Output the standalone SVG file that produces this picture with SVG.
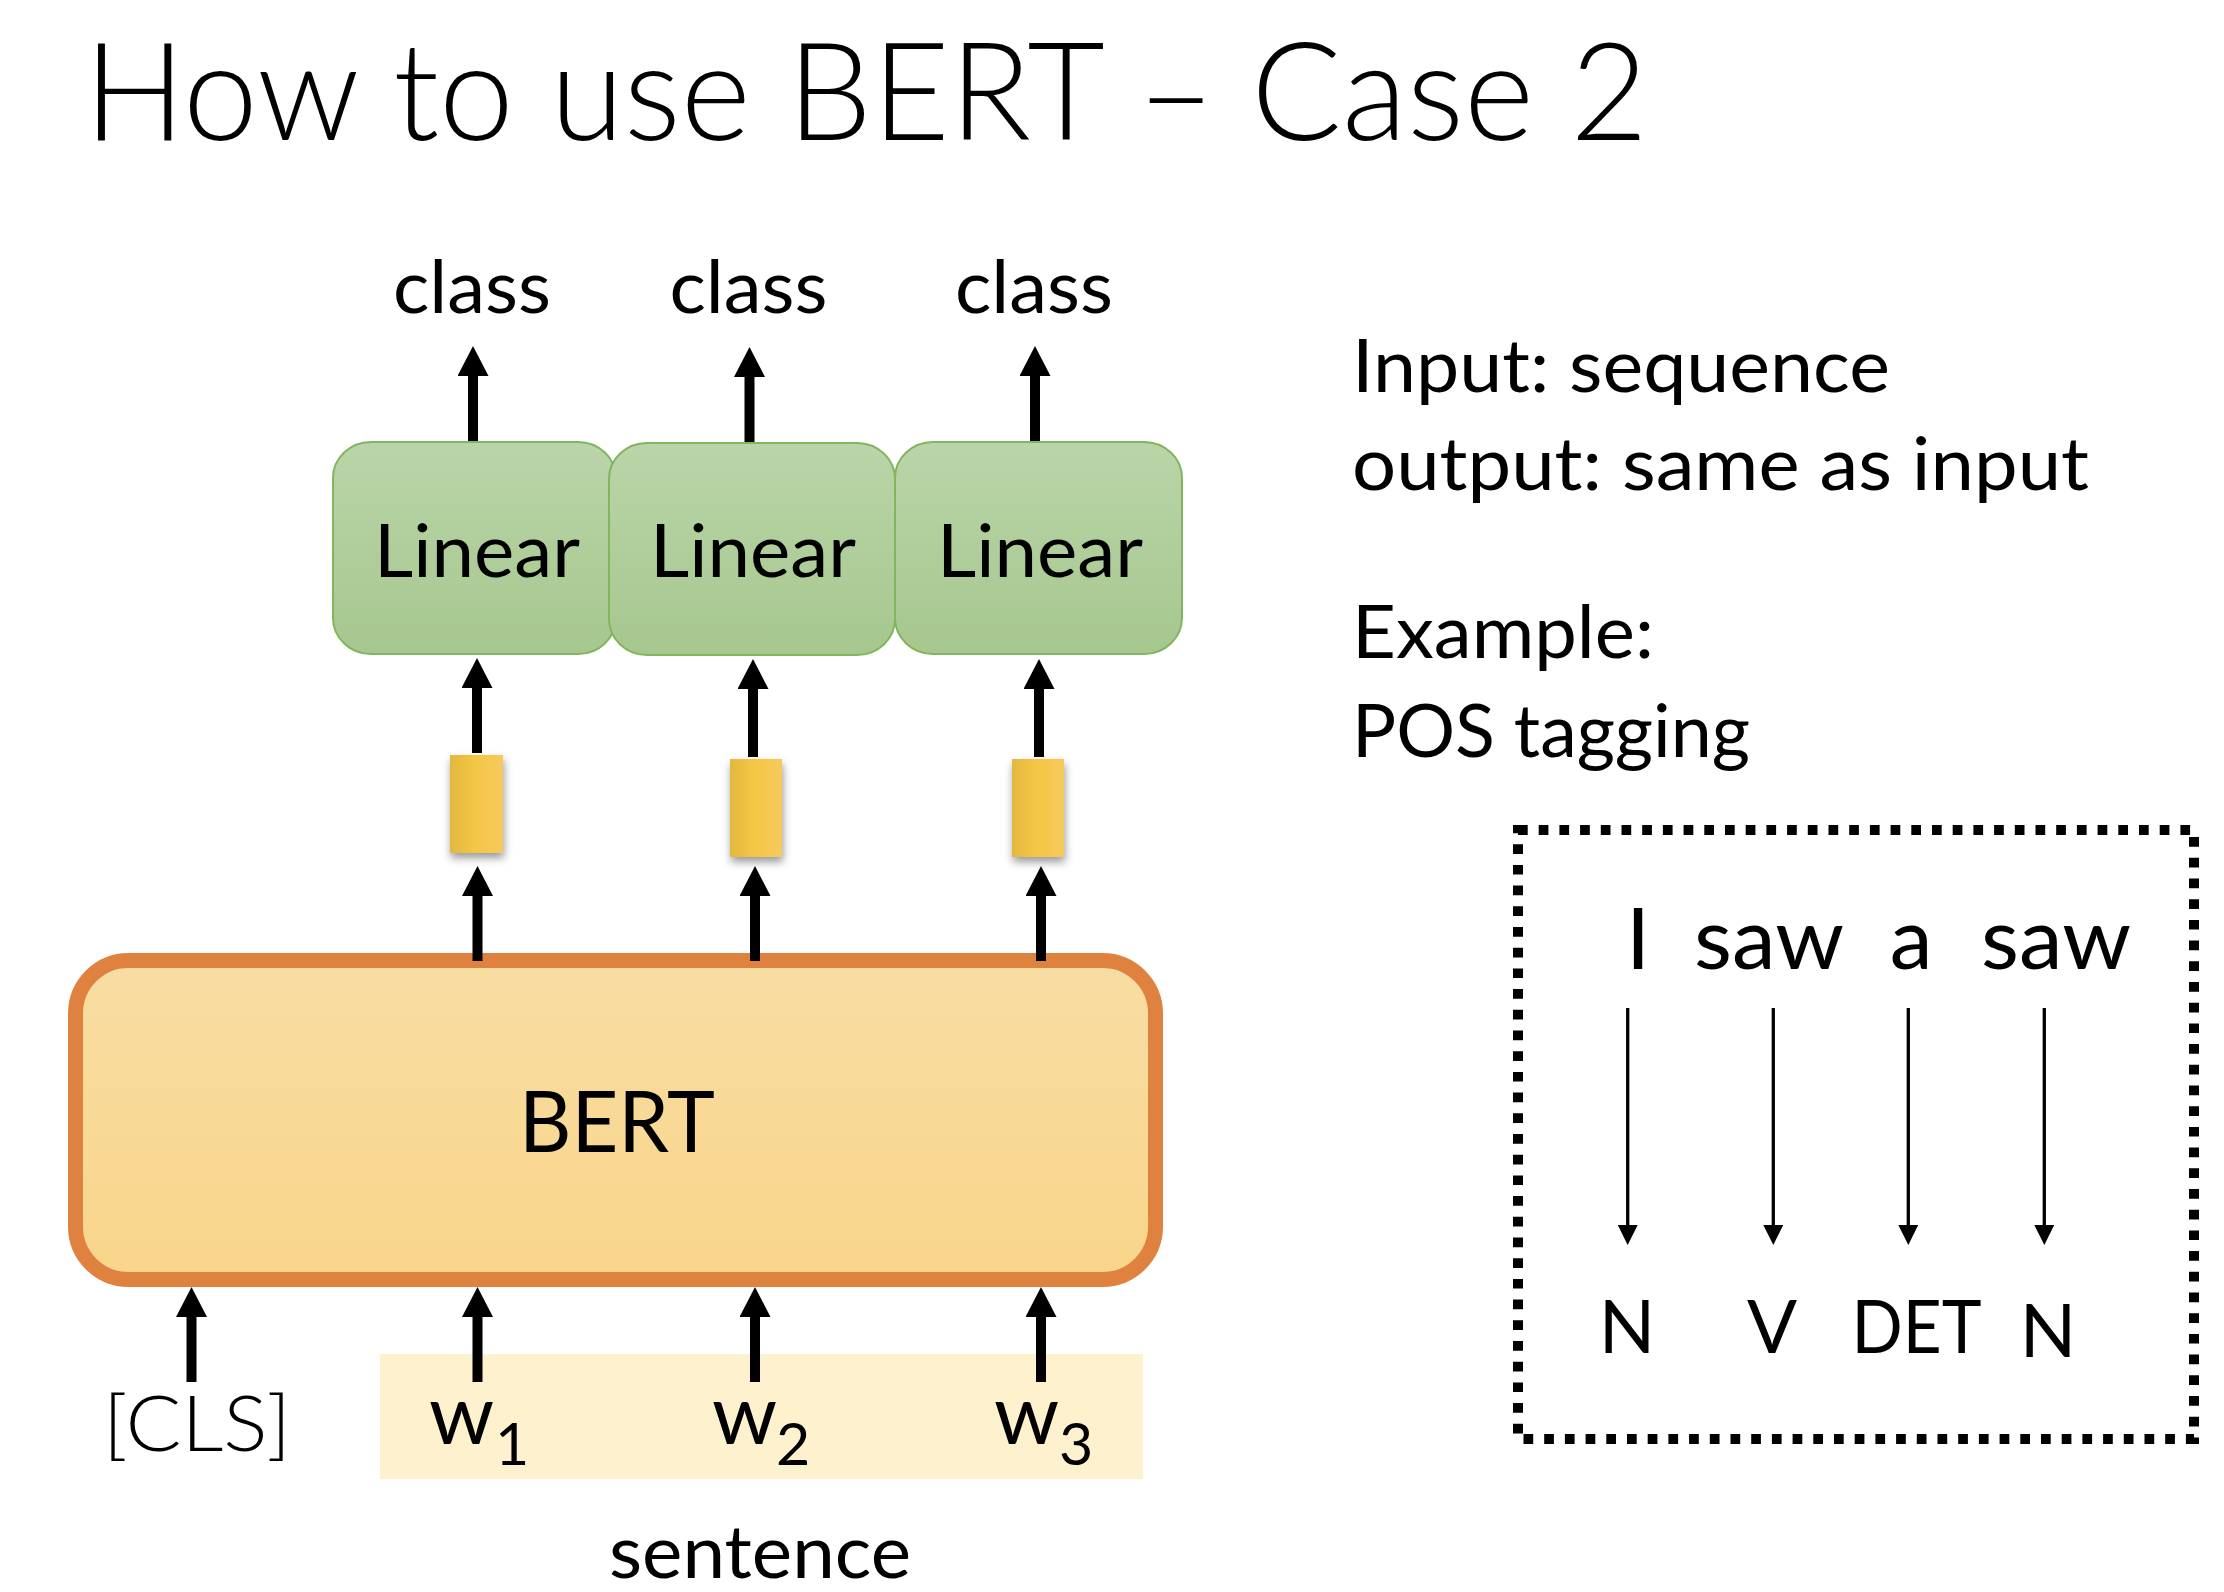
<svg xmlns="http://www.w3.org/2000/svg" width="2224" height="1592" viewBox="0 0 2224 1592">
<defs>
<style>
text { font-family: Lato, "Noto Sans", "Liberation Sans", sans-serif; fill: #000; }
.title { font-size: 136px; font-weight: 300; }
.cls { font-size: 73px; text-anchor: middle; }
.lin { font-size: 74px; text-anchor: middle; }
.linbox { fill: url(#gGreen); stroke: #82B55E; stroke-width: 2; }
.vec { fill: url(#gYellow); filter: url(#shadow); }
.thick { stroke: #000; stroke-width: 10; fill: none; marker-end: url(#headBig); }
.thin { stroke: #000; stroke-width: 3.3; fill: none; marker-end: url(#headSmall); }
.side { font-size: 73px; }
.tok { font-size: 86px; text-anchor: middle; }
.tag { font-size: 74px; text-anchor: middle; }
.inp { font-size: 83px; }
.sub { font-size: 59px; }
</style>
<linearGradient id="gGreen" x1="0" y1="0" x2="0" y2="1">
<stop offset="0" stop-color="#BAD5A9"/>
<stop offset="1" stop-color="#A6C78E"/>
</linearGradient>
<linearGradient id="gYellow" x1="0" y1="0" x2="1" y2="0">
<stop offset="0" stop-color="#E1B83F"/>
<stop offset="0.45" stop-color="#F4C644"/>
<stop offset="1" stop-color="#F5CA5C"/>
</linearGradient>
<linearGradient id="gBert" x1="0" y1="0" x2="0" y2="1">
<stop offset="0" stop-color="#F8DDA3"/>
<stop offset="1" stop-color="#F8D58A"/>
</linearGradient>
<filter id="shadow" x="-40%" y="-20%" width="180%" height="150%">
<feDropShadow dx="1" dy="5" stdDeviation="4" flood-color="#000" flood-opacity="0.4"/>
</filter>
<marker id="headBig" markerUnits="userSpaceOnUse" viewBox="0 0 30 31" markerWidth="30" markerHeight="31" refX="0" refY="15.5" orient="auto">
<path d="M0,0 L30,15.5 L0,31 Z" fill="#000"/>
</marker>
<marker id="headSmall" markerUnits="userSpaceOnUse" viewBox="0 0 20 20" markerWidth="20" markerHeight="20" refX="0" refY="10" orient="auto">
<path d="M0,0 L20,10 L0,20 Z" fill="#000"/>
</marker>
</defs>
<rect x="0" y="0" width="2224" height="1592" fill="#fff"/>

<g id="title">
<text class="title" x="84" y="140" textLength="1564" lengthAdjust="spacingAndGlyphs">How to use BERT – Case 2</text>
</g>

<g id="class-labels">
<text class="cls" x="472" y="313" textLength="158" lengthAdjust="spacingAndGlyphs">class</text>
<text class="cls" x="748.5" y="313" textLength="158" lengthAdjust="spacingAndGlyphs">class</text>
<text class="cls" x="1034" y="313" textLength="158" lengthAdjust="spacingAndGlyphs">class</text>
</g>

<g id="linear1">
<rect class="linbox" x="333" y="442" width="283" height="212" rx="38" ry="36"/>
<text class="lin" x="477" y="577" textLength="206" lengthAdjust="spacingAndGlyphs">Linear</text>
</g>
<g id="linear2">
<rect class="linbox" x="609" y="443" width="286" height="212" rx="38" ry="36"/>
<text class="lin" x="753" y="577" textLength="206" lengthAdjust="spacingAndGlyphs">Linear</text>
</g>
<g id="linear3">
<rect class="linbox" x="895" y="442" width="287" height="212" rx="38" ry="36"/>
<text class="lin" x="1040" y="577" textLength="206" lengthAdjust="spacingAndGlyphs">Linear</text>
</g>

<g id="vec1"><rect class="vec" x="450" y="755" width="53" height="98"/></g>
<g id="vec2"><rect class="vec" x="730" y="759" width="52" height="98"/></g>
<g id="vec3"><rect class="vec" x="1012" y="759" width="52" height="98"/></g>

<g id="bert">
<rect x="75.5" y="960.5" width="1080" height="319" rx="53" ry="53" fill="url(#gBert)" stroke="#E0823F" stroke-width="15"/>
<text x="617" y="1152" font-size="85" text-anchor="middle" textLength="196" lengthAdjust="spacingAndGlyphs">BERT</text>
</g>

<g id="sentence">
<rect x="380" y="1354" width="763" height="125" fill="#FDF1CE"/>
<text x="760" y="1578" font-size="73" text-anchor="middle" textLength="302" lengthAdjust="spacingAndGlyphs">sentence</text>
</g>

<g id="cls-token">
<text x="197" y="1451" font-size="77" font-weight="300" text-anchor="middle" textLength="188" lengthAdjust="spacingAndGlyphs">[CLS]</text>
</g>
<g id="w1"><text class="inp" x="429" y="1444">w<tspan class="sub" x="495" y="1465">1</tspan></text></g>
<g id="w2"><text class="inp" x="712" y="1444">w<tspan class="sub" x="776" y="1465">2</tspan></text></g>
<g id="w3"><text class="inp" x="994" y="1444">w<tspan class="sub" x="1059" y="1465">3</tspan></text></g>

<g id="description">
<text class="side" x="1352" y="392" textLength="538" lengthAdjust="spacingAndGlyphs">Input: sequence</text>
<text class="side" x="1352" y="490" textLength="737" lengthAdjust="spacingAndGlyphs">output: same as input</text>
<text class="side" x="1352" y="658" textLength="302" lengthAdjust="spacingAndGlyphs">Example:</text>
<text class="side" x="1352" y="757" textLength="398" lengthAdjust="spacingAndGlyphs">POS tagging</text>
</g>

<g id="pos-example">
<rect x="1518" y="830" width="676" height="609" fill="none" stroke="#000" stroke-width="10" stroke-dasharray="9.7 11"/>
<text class="tok" x="1638" y="969">I</text>
<text class="tok" x="1769" y="969" textLength="150" lengthAdjust="spacingAndGlyphs">saw</text>
<text class="tok" x="1911" y="969">a</text>
<text class="tok" x="2056" y="969" textLength="150" lengthAdjust="spacingAndGlyphs">saw</text>
<text class="tag" x="1627" y="1353">N</text>
<text class="tag" x="1772" y="1353">V</text>
<text class="tag" x="1916.5" y="1353" textLength="130" lengthAdjust="spacingAndGlyphs">DET</text>
<text class="tag" x="2048" y="1357">N</text>
</g>

<g id="connectors">
<path class="thick" d="M473,441 V376"/>
<path class="thick" d="M749.5,442 V377"/>
<path class="thick" d="M1035,441 V376"/>
<path class="thick" d="M477,753 V688"/>
<path class="thick" d="M753,757 V689"/>
<path class="thick" d="M1039,757 V689"/>
<path class="thick" d="M477.5,961 V896"/>
<path class="thick" d="M755,961 V896"/>
<path class="thick" d="M1041,961 V896"/>
<path class="thick" d="M191.5,1382 V1317"/>
<path class="thick" d="M477.5,1382 V1317"/>
<path class="thick" d="M755,1382 V1317"/>
<path class="thick" d="M1041,1382 V1317"/>
<path class="thin" d="M1627.7,1008 V1225"/>
<path class="thin" d="M1773.3,1008 V1225"/>
<path class="thin" d="M1908.3,1008 V1225"/>
<path class="thin" d="M2044.3,1008 V1225"/>
</g>
</svg>
